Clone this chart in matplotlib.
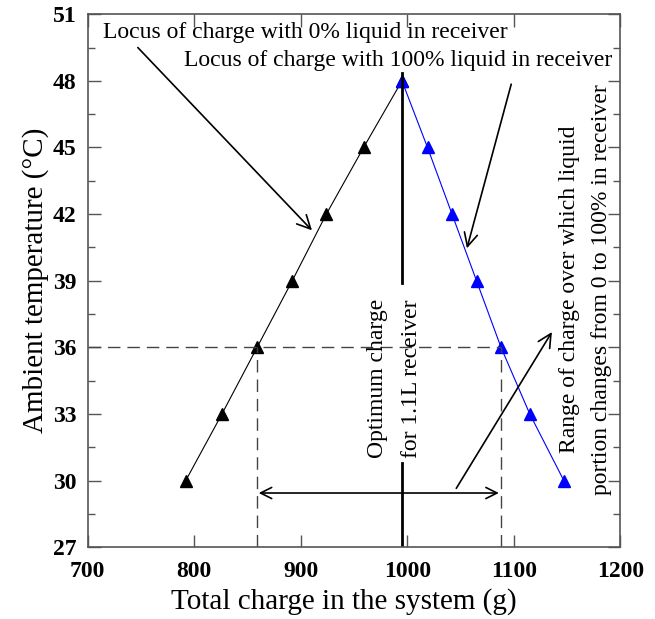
import numpy as np
import matplotlib
matplotlib.use("Agg")
import matplotlib.pyplot as plt
from matplotlib.ticker import MultipleLocator

# data
temp = [30, 33, 36, 39, 42, 45, 48]
charge_0pct = [792, 826, 859, 892, 924, 959, 995]
charge_100pct = [1147, 1115, 1088, 1065, 1042, 1019, 995]
optimum_charge = 995.5
range_lo, range_hi = 858.5, 1088
range_temp = 36

plt.rcParams['font.family'] = ['Liberation Serif', 'DejaVu Serif']

fig = plt.figure(figsize=(6.55, 6.19), dpi=100)
ax = fig.add_axes([0.134, 0.116, 0.813, 0.861])

ax.plot(charge_0pct, temp, color='black', lw=0.8, marker='^', ms=9)
ax.plot(charge_100pct, temp, color='blue', lw=0.8, marker='^', ms=9)

# dashed guides at 36 C
dash = dict(color='#444444', lw=1.0, dashes=(9, 5))
ax.plot([700, range_hi], [range_temp, range_temp], **dash)
ax.plot([range_lo, range_lo], [27, range_temp], **dash)
ax.plot([range_hi, range_hi], [27, range_temp], **dash)

# optimum charge line with a gap for its label
ax.plot([optimum_charge, optimum_charge], [38.9, 48.35], color='black', lw=2)
ax.plot([optimum_charge, optimum_charge], [27, 30.8], color='black', lw=2)
ax.text(988, 34.6, 'Optimum charge\nfor 1.1L receiver', rotation=90,
        ha='center', va='center', multialignment='center', fontsize=17,
        linespacing=1.85)

# range arrow
ax.annotate('', xy=(range_lo + 2, 29.44), xytext=(range_hi - 2, 29.44),
            arrowprops=dict(arrowstyle='<->', lw=1.2, color='black',
                            mutation_scale=20, shrinkA=0, shrinkB=0))

arrow = dict(arrowstyle='->', lw=1.2, color='black', mutation_scale=24,
             shrinkA=0, shrinkB=0)
ax.annotate('', xy=(910.5, 41.27), xytext=(747, 49.5), arrowprops=arrow)
ax.annotate('', xy=(1056, 40.46), xytext=(1097.6, 47.85), arrowprops=arrow)
ax.annotate('', xy=(1135.8, 36.69), xytext=(1046, 29.65), arrowprops=arrow)

ax.text(714, 50.2, 'Locus of charge with 0% liquid in receiver',
        ha='left', va='center', fontsize=17)
ax.text(1192.5, 48.93, 'Locus of charge with 100% liquid in receiver',
        ha='right', va='center', fontsize=17)
ax.text(1167, 38.6,
        'Range of charge over which liquid\nportion changes from 0 to 100% in receiver',
        rotation=90, ha='center', va='center', multialignment='center',
        fontsize=17, linespacing=1.7)

ax.set_xlim(700, 1200)
ax.set_ylim(27, 51)
ax.xaxis.set_major_locator(MultipleLocator(100))
ax.yaxis.set_major_locator(MultipleLocator(3))
ax.yaxis.set_minor_locator(MultipleLocator(1.5))
ax.tick_params(which='both', direction='in', top=True, right=True,
               color='#555555', width=1)
ax.tick_params(which='major', length=9, labelsize=17, pad=8)
ax.tick_params(axis='x', which='major', pad=10)
ax.tick_params(which='minor', length=5)
for lbl in ax.get_xticklabels() + ax.get_yticklabels():
    lbl.set_fontweight('bold')
for sp in ax.spines.values():
    sp.set_color('#555555')
    sp.set_linewidth(1.2)

ax.set_xlabel('Total charge in the system (g)', fontsize=21)
ax.xaxis.set_label_coords(0.481, -0.077)
ax.set_ylabel('Ambient temperature (°C)', fontsize=21, labelpad=3)

fig.savefig('out.png', dpi=100)
